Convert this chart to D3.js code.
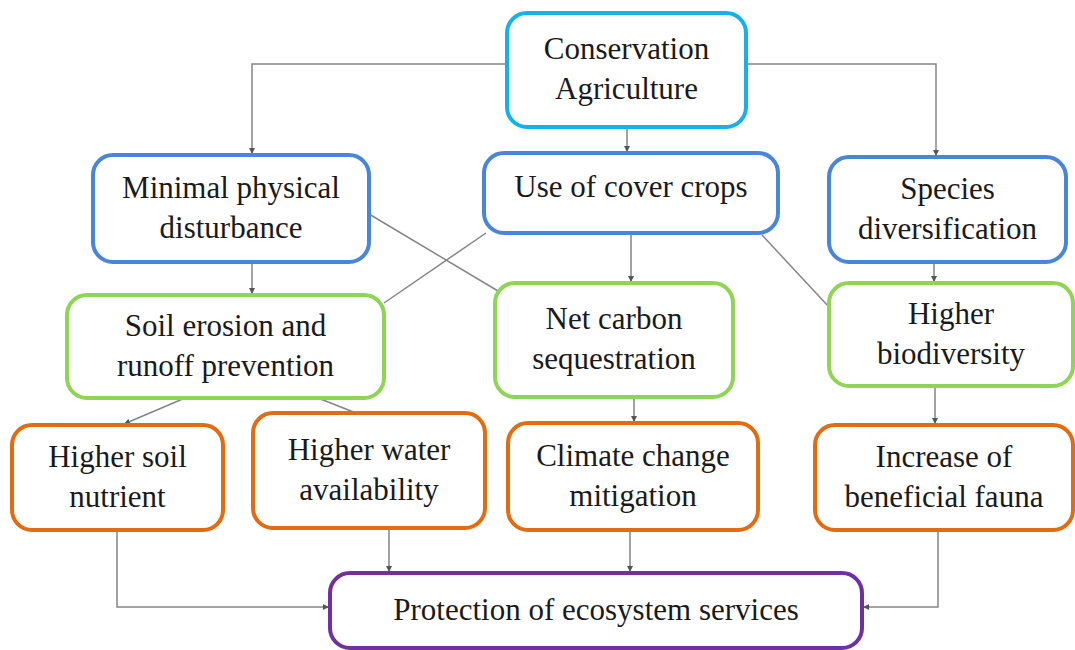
<!DOCTYPE html>
<html>
<head>
<meta charset="utf-8">
<script src="https://cdn.jsdelivr.net/npm/d3@7"></script>
<style>
  body { margin: 0; background: #fff; }
  svg { display: block; }
  .lbl { font-family: 'Liberation Serif', 'Times New Roman', Times, serif; }
</style>
</head>
<body>
<div id="chart"></div>
<script>
// node ids and their text lines
var nodeIds = ['ca', 'mpd', 'ucc', 'sd', 'se', 'ncs', 'hb', 'hsn', 'hwa', 'ccm', 'ibf', 'pes'];
var nodeLabels = [
  ['Conservation', 'Agriculture'],
  ['Minimal physical', 'disturbance'],
  ['Use of cover crops'],
  ['Species', 'diversification'],
  ['Soil erosion and', 'runoff prevention'],
  ['Net carbon', 'sequestration'],
  ['Higher', 'biodiversity'],
  ['Higher soil', 'nutrient'],
  ['Higher water', 'availability'],
  ['Climate change', 'mitigation'],
  ['Increase of', 'beneficial fauna'],
  ['Protection of ecosystem services']
];
var nodeKind = ['root', 'practice', 'practice', 'practice', 'effect', 'effect', 'effect',
                'benefit', 'benefit', 'benefit', 'benefit', 'goal'];
// connections: from, to, arrow head or not
var links = [
  ['ca', 'mpd', true], ['ca', 'ucc', true], ['ca', 'sd', true],
  ['mpd', 'se', true], ['mpd', 'ncs', false],
  ['ucc', 'se', false], ['ucc', 'ncs', true], ['ucc', 'hb', false],
  ['sd', 'hb', true],
  ['se', 'hsn', true], ['se', 'hwa', false],
  ['ncs', 'ccm', true], ['hb', 'ibf', true],
  ['hsn', 'pes', true], ['hwa', 'pes', true], ['ccm', 'pes', true], ['ibf', 'pes', true]
];

// box layout [x0, y0, x1, y1]
var layout = {
  ca:  [507, 13, 746, 127],
  mpd: [93, 155, 369, 262],
  ucc: [484, 153, 778, 233],
  sd:  [829, 157, 1066, 262],
  se:  [67, 295, 384, 398],
  ncs: [495, 283, 733, 397],
  hb:  [829, 283, 1073, 386],
  hsn: [12, 425, 223, 530],
  hwa: [253, 413, 485, 528],
  ccm: [508, 423, 758, 530],
  ibf: [815, 425, 1073, 530],
  pes: [330, 573, 862, 648]
};
var colors = {
  root: '#16b1ea', practice: '#4a86d8', effect: '#8fd455',
  benefit: '#e46c10', goal: '#7030a0'
};

var W = 1075, H = 650;
var svg = d3.select('#chart').append('svg').attr('width', W).attr('height', H);

svg.append('defs').append('marker')
  .attr('id', 'arr')
  .attr('viewBox', '0 0 10 10')
  .attr('refX', 10).attr('refY', 5)
  .attr('markerWidth', 6).attr('markerHeight', 6)
  .attr('markerUnits', 'userSpaceOnUse')
  .attr('orient', 'auto')
  .append('path').attr('d', 'M0,0 L10,5 L0,10 Z').attr('fill', '#555');

function B(id) { var b = layout[id]; return {x0: b[0], y0: b[1], x1: b[2], y1: b[3], cx: (b[0] + b[2]) / 2, cy: (b[1] + b[3]) / 2}; }

// route points for each link
function route(l) {
  var a = B(l[0]), b = B(l[1]), key = l[0] + '-' + l[1];
  switch (key) {
    case 'ca-mpd': return [[a.x0, 64], [252, 64], [252, b.y0 - 1]];
    case 'ca-sd': return [[a.x1, 64], [936, 64], [936, b.y0 - 1]];
    case 'ca-ucc': return [[627, a.y1], [627, b.y0 - 1]];
    case 'mpd-se': return [[252, a.y1], [252, b.y0 - 1]];
    case 'mpd-ncs': return [[a.x1, 214], [b.x0 + 3, 291]];
    case 'ucc-se': return [[a.x0 + 2, a.y1], [b.x1, 303]];
    case 'ucc-ncs': return [[631, a.y1], [631, b.y0 - 1]];
    case 'ucc-hb': return [[762, a.y1 + 2], [b.x0, 307]];
    case 'sd-hb': return [[934, a.y1], [934, b.y0 - 1]];
    case 'se-hsn': return [[185, a.y1], [124, b.y0 - 1]];
    case 'se-hwa': return [[318, a.y1], [356, b.y0]];
    case 'ncs-ccm': return [[634, a.y1], [634, b.y0 - 1]];
    case 'hb-ibf': return [[935, a.y1], [935, b.y0 - 1]];
    case 'hsn-pes': return [[117, a.y1], [117, 607], [b.x0 - 1, 607]];
    case 'hwa-pes': return [[389, a.y1], [389, b.y0 - 1]];
    case 'ccm-pes': return [[630, a.y1], [630, b.y0 - 1]];
    case 'ibf-pes': return [[938, a.y1], [938, 607], [b.x1 + 1, 607]];
  }
}

svg.append('g').selectAll('path').data(links).join('path')
  .attr('d', function(d) { return d3.line()(route(d)); })
  .attr('fill', 'none')
  .attr('stroke', '#858585')
  .attr('stroke-width', 1.5)
  .attr('marker-end', function(d) { return d[2] ? 'url(#arr)' : null; });

var nodes = nodeIds.map(function(id, i) { return {id: id, lines: nodeLabels[i], kind: nodeKind[i]}; });

var g = svg.append('g').selectAll('g').data(nodes).join('g');
g.append('rect')
  .attr('x', function(d) { return B(d.id).x0; })
  .attr('y', function(d) { return B(d.id).y0; })
  .attr('width', function(d) { return B(d.id).x1 - B(d.id).x0; })
  .attr('height', function(d) { return B(d.id).y1 - B(d.id).y0; })
  .attr('rx', 20).attr('ry', 20)
  .attr('fill', '#fff')
  .attr('stroke', function(d) { return colors[d.kind]; })
  .attr('stroke-width', 4);

var lh = 40;
g.each(function(d) {
  var b = B(d.id), n = d.lines.length;
  var cy = d.id === 'ucc' ? b.cy - 6 : b.cy - 1;
  d3.select(this).selectAll('text').data(d.lines).join('text')
    .attr('class', 'lbl')
    .attr('x', b.cx)
    .attr('y', function(t, i) { return cy + (i - (n - 1) / 2) * lh + 10; })
    .attr('text-anchor', 'middle')
    .style('font-size', '31px')
    .attr('fill', '#1a1a1a')
    .text(function(t) { return t; });
});
</script>
</body>
</html>
